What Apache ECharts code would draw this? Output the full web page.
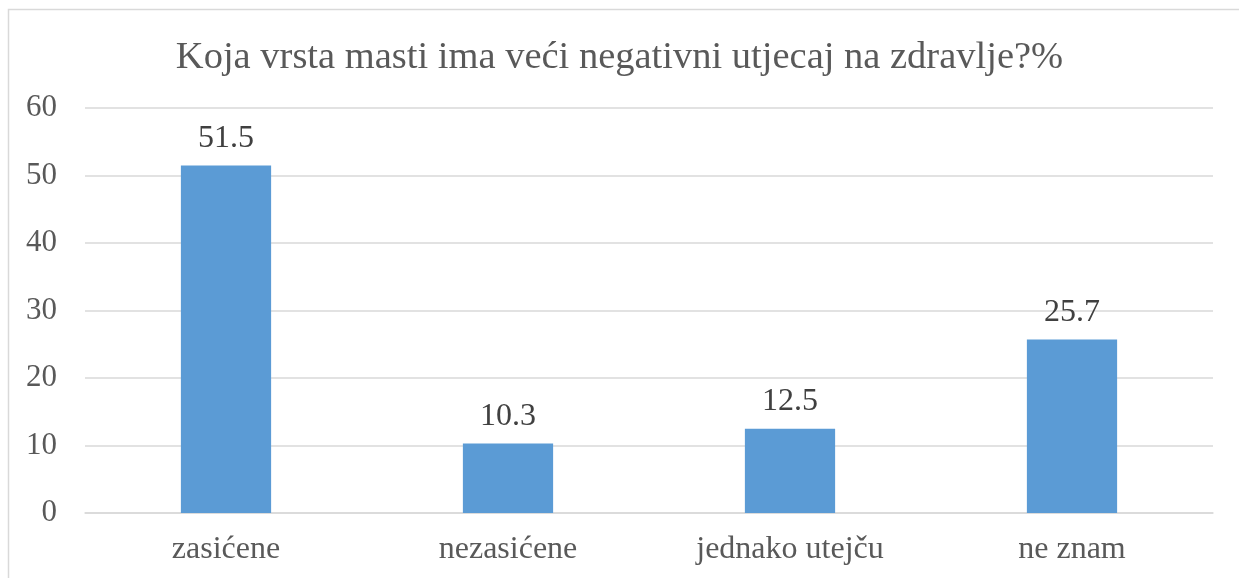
<!DOCTYPE html>
<html>
<head>
<meta charset="utf-8">
<script src="https://cdn.jsdelivr.net/npm/echarts@6/dist/echarts.min.js"></script>
<style>
  html, body { margin: 0; padding: 0; background: #fff; }
  #chart { width: 1239px; height: 578px; }
</style>
</head>
<body>
<div id="chart"></div>
<script>
const categories = ['zasićene', 'nezasićene', 'jednako utejču', 'ne znam']
const values = [51.5, 10.3, 12.5, 25.7]
const titleText = 'Koja vrsta masti ima veći negativni utjecaj na zdravlje?%'

const font = '"Liberation Serif", "Times New Roman", serif'
const chart = echarts.init(document.getElementById('chart'))

const option = {
  animation: false,
  title: {
    text: titleText,
    left: 'center',
    top: 33,
    textStyle: { fontFamily: font, fontSize: 38.5, fontWeight: 'normal', color: '#595959' }
  },
  grid: { left: 85, right: 26, top: 108, bottom: 65, containLabel: false },
  xAxis: {
    type: 'category',
    data: categories,
    axisLine: { lineStyle: { color: '#d9d9d9', width: 1.5 } },
    axisTick: { show: false },
    axisLabel: { fontFamily: font, fontSize: 32, color: '#595959', margin: 21 }
  },
  yAxis: {
    type: 'value',
    min: 0,
    max: 60,
    interval: 10,
    axisLine: { show: false },
    axisTick: { show: false },
    splitLine: { lineStyle: { color: '#d9d9d9', width: 1.5 } },
    axisLabel: { fontFamily: font, fontSize: 31, color: '#595959', margin: 28 }
  },
  series: [{
    type: 'bar',
    data: values,
    barWidth: '32%',
    itemStyle: { color: '#5b9bd5' },
    label: {
      show: true,
      position: 'top',
      distance: 11,
      fontFamily: font,
      fontSize: 32,
      color: '#404040'
    }
  }],
  graphic: [{
    type: 'rect',
    shape: { x: 8.5, y: 9.5, width: 1240, height: 580 },
    style: { fill: null, stroke: '#d9d9d9', lineWidth: 1.5 },
    silent: true
  }]
}

chart.setOption(option)
</script>
</body>
</html>
